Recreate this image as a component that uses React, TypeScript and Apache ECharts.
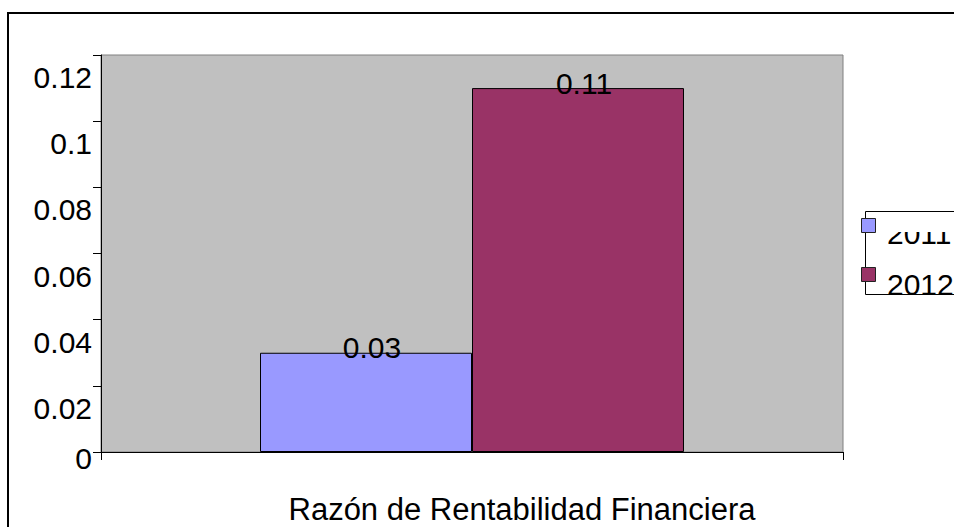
import React, { useEffect, useRef } from "react";
import * as echarts from "echarts";

const categories = ["Razón de Rentabilidad Financiera"];
const seriesNames = ["2011", "2012"];
const values2011 = [0.03];
const values2012 = [0.11];
const seriesColors = ["#9999FF", "#993366"];
const yTickLabels = ["0", "0.02", "0.04", "0.06", "0.08", "0.1", "0.12"];

const FONT = "'Liberation Sans', Arial, Helvetica, sans-serif";

export default function App() {
  const ref = useRef<HTMLDivElement>(null);

  useEffect(() => {
    if (!ref.current) return;
    const chart = echarts.init(ref.current, undefined, { renderer: "svg" });
    const labelOf = (v: number) => yTickLabels[Math.round(v / 0.02)] ?? "";
    const seriesData = [values2011, values2012];

    const option: any = {
      animation: false,
      backgroundColor: "#ffffff",
      textStyle: { fontFamily: FONT },
      grid: {
        left: 101,
        top: 55,
        right: 111,
        bottom: 75,
        show: true,
        backgroundColor: "#C0C0C0",
        borderColor: "#808080",
        borderWidth: 1,
      },
      xAxis: {
        type: "category",
        data: categories,
        axisLine: { show: true, lineStyle: { color: "#000", width: 1 } },
        axisTick: { show: true, length: 8, lineStyle: { color: "#000" } },
        axisLabel: {
          fontSize: 31,
          fontFamily: FONT,
          color: "#000",
          margin: 42,
          lineHeight: 31,
          padding: [0, 0, 0, 100],
          interval: 0,
        },
        splitLine: { show: false },
      },
      yAxis: [
        {
          type: "value",
          min: 0,
          max: 0.12,
          interval: 0.02,
          axisLine: { show: true, lineStyle: { color: "#000", width: 1 } },
          axisTick: { show: true, length: 8, lineStyle: { color: "#000" } },
          splitLine: { show: false },
          axisLabel: {
            fontSize: 30,
            fontFamily: FONT,
            color: "#000",
            margin: 9,
            verticalAlign: "top",
            lineHeight: 45,
            formatter: (v: number) => (Math.round(v / 0.02) === 0 ? "" : labelOf(v)),
          },
        },
        {
          type: "value",
          position: "left",
          min: 0,
          max: 0.12,
          interval: 0.02,
          axisLine: { show: false },
          axisTick: { show: false },
          splitLine: { show: false },
          axisLabel: {
            fontSize: 30,
            fontFamily: FONT,
            color: "#000",
            margin: 9,
            verticalAlign: "top",
            lineHeight: 12,
            formatter: (v: number) => (Math.round(v / 0.02) === 0 ? labelOf(v) : ""),
          },
        },
      ],
      series: seriesNames.map((name, i) => ({
        name,
        type: "bar",
        yAxisIndex: 0,
        data: seriesData[i],
        barGap: "0%",
        barCategoryGap: "42.86%",
        itemStyle: { color: seriesColors[i], borderColor: "#000", borderWidth: 1 },
        label: {
          show: true,
          position: "top",
          distance: -10,
          offset: [6, 0],
          fontSize: 30,
          fontFamily: FONT,
          color: "#000",
          formatter: (p: any) => String(p.value),
        },
      })),
      graphic: [
        {
          type: "rect",
          z: 100,
          shape: { x: 8, y: 13, width: 1000, height: 1000 },
          style: { fill: "none", stroke: "#000", lineWidth: 2 },
        },
        {
          type: "rect",
          z: 100,
          shape: { x: 865.5, y: 211.5, width: 200, height: 83 },
          style: { fill: "#fff", stroke: "#000", lineWidth: 1 },
        },
        {
          type: "text",
          z: 101,
          style: {
            x: 887,
            y: 233,
            text: seriesNames[0],
            fontSize: 30,
            fontFamily: FONT,
            fill: "#000",
            verticalAlign: "middle",
            align: "left",
          },
        },
        {
          type: "rect",
          z: 102,
          shape: { x: 878, y: 212.5, width: 80, height: 19.5 },
          style: { fill: "#fff", stroke: "none" },
        },
        {
          type: "text",
          z: 101,
          style: {
            x: 887,
            y: 284,
            text: seriesNames[1],
            fontSize: 30,
            fontFamily: FONT,
            fill: "#000",
            verticalAlign: "middle",
            align: "left",
          },
        },
        {
          type: "rect",
          z: 103,
          shape: { x: 861.5, y: 218.5, width: 14, height: 14 },
          style: { fill: seriesColors[0], stroke: "#222", lineWidth: 1 },
        },
        {
          type: "rect",
          z: 103,
          shape: { x: 861.5, y: 267.5, width: 14, height: 14 },
          style: { fill: seriesColors[1], stroke: "#222", lineWidth: 1 },
        },
      ],
    };

    chart.setOption(option);
    return () => chart.dispose();
  }, []);

  return (
    <div
      ref={ref}
      style={{ position: "fixed", left: 0, top: 0, width: 954, height: 527, background: "#fff" }}
    />
  );
}
